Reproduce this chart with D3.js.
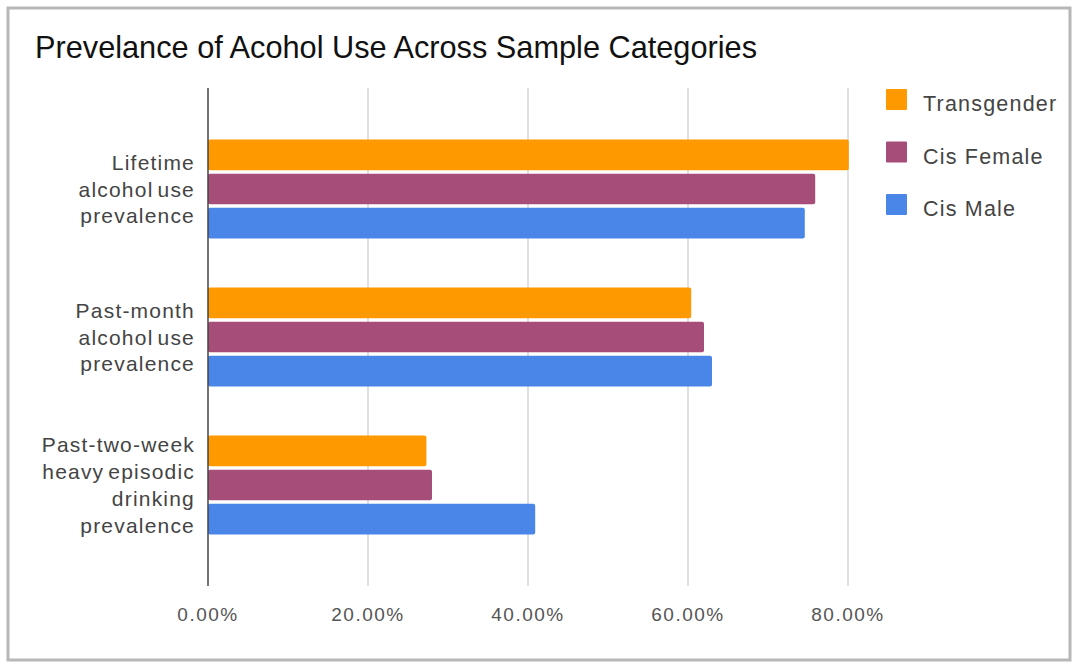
<!DOCTYPE html>
<html><head><meta charset="utf-8">
<script src="https://cdn.jsdelivr.net/npm/d3@7"></script>
<style>body{margin:0;background:#fff;}svg{display:block;font-family:"Liberation Sans",Arial,sans-serif;}</style>
</head><body><svg id="c" width="1077" height="666"></svg>
<script>
const categories = [
  ["Lifetime", "alcohol use", "prevalence"],
  ["Past-month", "alcohol use", "prevalence"],
  ["Past-two-week", "heavy episodic", "drinking", "prevalence"]
];
const categoryKeys = ["Lifetime", "Past-month", "Past-two-week"];
const seriesNames = ["Transgender", "Cis Female", "Cis Male"];
const seriesColors = ["#ff9900", "#a64d79", "#4a86e8"];
const transgender = [80.1, 60.4, 27.3];
const cisFemale = [75.9, 62.0, 28.0];
const cisMale = [74.6, 63.0, 40.9];
const tickValues = [0, 20, 40, 60, 80];
const title = "Prevelance of Acohol Use Across Sample Categories";

const series = [transgender, cisFemale, cisMale];
const svg = d3.select("#c");

svg.append("rect").attr("x", 8).attr("y", 8).attr("width", 1062).attr("height", 652)
  .attr("fill", "#fff").attr("stroke", "#b7b7b7").attr("stroke-width", 3);

svg.append("text").attr("x", 35).attr("y", 58).attr("font-size", 32)
  .attr("font-family", "'Liberation Sans Narrow','Liberation Sans',Arial,sans-serif")
  .attr("fill", "#111")
  .attr("textLength", 722).attr("lengthAdjust", "spacingAndGlyphs").text(title);

const x = d3.scaleLinear().domain([0, 80]).range([208, 848]);
const y = d3.scaleBand().domain(categoryKeys).range([115, 559]).paddingInner(0).paddingOuter(0);
const sub = d3.scaleBand().domain(d3.range(3)).range([0, 99]).paddingInner(0.1);
const bandTop = k => y(k) + (y.bandwidth() - 99) / 2;

// gridlines
svg.append("g").selectAll("line").data(tickValues.slice(1)).join("line")
  .attr("x1", d => x(d)).attr("x2", d => x(d)).attr("y1", 88).attr("y2", 586)
  .attr("stroke", "#d0d0d0").attr("stroke-width", 1.3);

// bars
categoryKeys.forEach((k, ci) => {
  series.forEach((s, si) => {
    svg.append("rect").attr("x", x(0)).attr("y", bandTop(k) + sub(si))
      .attr("width", x(s[ci]) - x(0)).attr("height", sub.bandwidth())
      .attr("rx", 2).attr("fill", seriesColors[si]);
  });
});

// baseline axis
svg.append("line").attr("x1", x(0)).attr("x2", x(0)).attr("y1", 88).attr("y2", 586)
  .attr("stroke", "#444").attr("stroke-width", 1.5);

// x tick labels
svg.append("g").selectAll("text").data(tickValues).join("text")
  .attr("x", d => x(d)).attr("y", 621).attr("text-anchor", "middle")
  .attr("font-size", 19).attr("fill", "#555").attr("letter-spacing", 1.5)
  .text(d => d3.format(".2f")(d) + "%");

// category labels
categories.forEach((lines, ci) => {
  const cy = y(categoryKeys[ci]) + y.bandwidth() / 2;
  const lh = 26.8;
  const start = cy - (lines.length - 1) * lh / 2;
  lines.forEach((t, li) => {
    svg.append("text").attr("x", 195).attr("y", start + li * lh + 7.5)
      .attr("text-anchor", "end").attr("font-size", 21).attr("fill", "#444")
      .attr("letter-spacing", 1.2).attr("word-spacing", -3).text(t);
  });
});

// legend
seriesNames.forEach((n, i) => {
  const ly = 100 + i * 52.5;
  svg.append("rect").attr("x", 886).attr("y", ly - 11).attr("width", 21).attr("height", 21)
    .attr("rx", 1).attr("fill", seriesColors[i]);
  svg.append("text").attr("x", 923).attr("y", ly + 11).attr("font-size", 21.5)
    .attr("fill", "#444").attr("letter-spacing", 1.2).text(n);
});
</script></body></html>
